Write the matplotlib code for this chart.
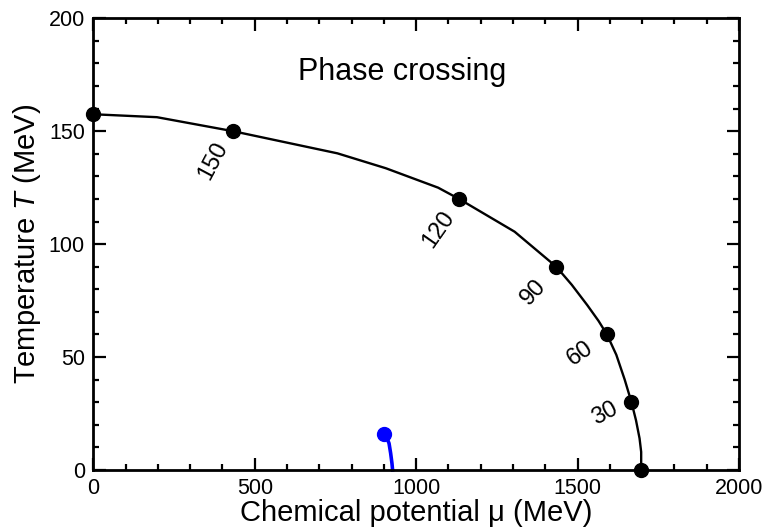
import numpy as np
import matplotlib
matplotlib.use('Agg')
import matplotlib.pyplot as plt
from matplotlib.ticker import MultipleLocator

plt.rcParams['font.family'] = ['Liberation Sans', 'DejaVu Sans']
plt.rcParams['mathtext.fontset'] = 'custom'
plt.rcParams['mathtext.rm'] = 'Liberation Sans'
plt.rcParams['mathtext.it'] = 'Liberation Sans:italic'

# phase boundary (mu in MeV, T in MeV)
mu_line = [0, 197, 433, 756, 906, 1068, 1133, 1305, 1434, 1482, 1530, 1565, 1591,
           1620, 1646, 1667, 1681, 1692, 1697, 1697]
T_line = [157.5, 156.2, 150, 140.2, 133.6, 125, 120, 105.5, 90, 82, 73, 66, 60,
          51, 40, 30, 22, 14, 8, 0]

# marked points on the boundary
mu_pts = [0, 433, 1133, 1434, 1591, 1667, 1697]
T_pts = [157.5, 150, 120, 90, 60, 30, 0]

# labels along the curve
lab_txt = ['150', '120', '90', '60', '30']
lab_mu = [372, 1069, 1363, 1508, 1586]
lab_T = [136.8, 106.3, 78.8, 51.4, 25.2]
lab_rot = [62, 55, 47, 35, 28]

# blue crossing line
mu_blue = [901, 910, 916, 921, 925, 927]
T_blue = [15.9, 14, 11.8, 7.4, 3, 0]

fig = plt.figure(figsize=(7.65, 5.29), dpi=100)
ax = fig.add_axes([0.122, 0.1115, 0.844, 0.854])

ax.plot(mu_line, T_line, color='black', lw=1.7)
ax.plot(mu_pts, T_pts, 'o', color='black', ms=10, clip_on=False, zorder=5)
ax.plot(mu_blue, T_blue, color='#0000ff', lw=2.6, clip_on=False)
ax.plot(mu_blue[0], T_blue[0], 'o', color='#0000ff', ms=10, zorder=5)

for s, x, y, r in zip(lab_txt, lab_mu, lab_T, lab_rot):
    ax.text(x, y, s, rotation=r, ha='center', va='center',
            rotation_mode='anchor', fontsize=17)

ax.text(633, 172.7, 'Phase crossing', fontsize=22, ha='left', va='baseline')

ax.set_xlim(0, 2000)
ax.set_ylim(0, 200)
ax.xaxis.set_major_locator(MultipleLocator(500))
ax.xaxis.set_minor_locator(MultipleLocator(100))
ax.yaxis.set_major_locator(MultipleLocator(50))
ax.yaxis.set_minor_locator(MultipleLocator(10))
ax.tick_params(which='both', direction='in', top=True, right=True, width=1.6)
ax.tick_params(which='major', length=9, labelsize=15.5, pad=6)
ax.tick_params(which='minor', length=4.5)
for sp in ax.spines.values():
    sp.set_linewidth(2)

ax.set_xlabel('Chemical potential μ (MeV)', fontsize=21, labelpad=0)
ax.set_ylabel('Temperature $T$ (MeV)', fontsize=21, labelpad=4)

fig.savefig('out.png', dpi=100)
